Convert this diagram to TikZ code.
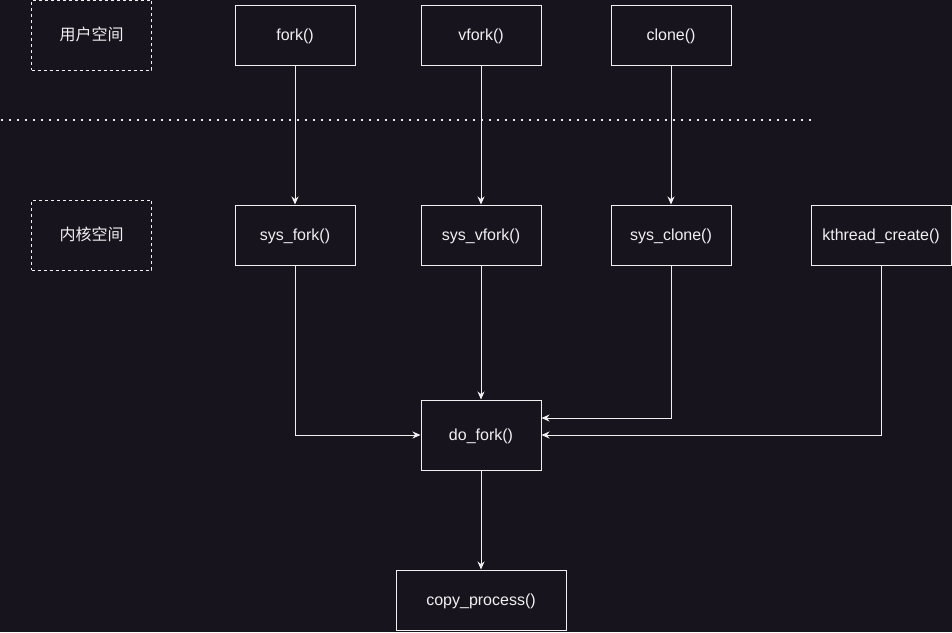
\documentclass[tikz,border=0pt]{standalone}
\usepackage{fontspec}
\setmainfont{Liberation Sans}
\newfontfamily\cjk{Noto Sans CJK SC}
\usetikzlibrary{arrows.meta}
\definecolor{bgdark}{RGB}{24,20,29}
\definecolor{fgline}{RGB}{240,240,240}

\begin{document}
\begin{tikzpicture}[x=1pt, y=-1pt, font=\fontsize{16}{19}\selectfont,
    box/.style={rectangle, draw=fgline, line width=1pt, text=fgline, inner sep=0pt,
        minimum width=120pt, minimum height=60pt, text height=13pt, text depth=3pt},
    spacebox/.style={box, dash pattern=on 3pt off 3pt, minimum height=70pt, font=\cjk\fontsize{16}{19}\selectfont},
    link/.style={draw=fgline, line width=1pt, -{Stealth[length=8pt, width=7pt]}}]
    \fill[bgdark] (0,0) rectangle (952,632);
    \useasboundingbox (0,0) rectangle (952,632);

    \node[spacebox] (user) at (91.5, 35) {用户空间};
    \node[box] (fork) at (295, 35) {fork()};
    \node[box] (vfork) at (481, 35) {vfork()};
    \node[box] (clone) at (671, 35) {clone()};

    \draw[fgline, line width=2pt, dash pattern=on 2pt off 6pt] (1, 120) -- (812, 120);

    \node[spacebox] (kernel) at (91.5, 235) {内核空间};
    \node[box] (sfork) at (295, 235) {sys\_fork()};
    \node[box] (svfork) at (481, 235) {sys\_vfork()};
    \node[box] (sclone) at (671, 235) {sys\_clone()};
    \node[box, minimum width=140pt] (kthread) at (881, 235) {kthread\_create()};

    \node[box, minimum height=70pt] (dofork) at (481, 435) {do\_fork()};
    \node[box, minimum width=170pt] (copy) at (481, 600) {copy\_process()};

    \draw[link] (fork) -- (sfork);
    \draw[link] (vfork) -- (svfork);
    \draw[link] (clone) -- (sclone);
    \draw[link] (sfork) |- (dofork);
    \draw[link] (svfork) -- (dofork);
    \draw[link] (sclone.south) |- (dofork.east |- 0,418);
    \draw[link] (kthread) |- (dofork);
    \draw[link] (dofork) -- (copy);
\end{tikzpicture}
\end{document}
